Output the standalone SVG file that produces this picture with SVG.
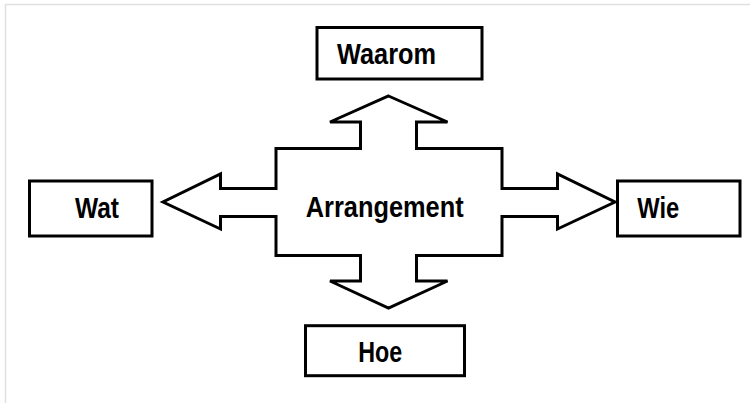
<svg xmlns="http://www.w3.org/2000/svg" width="750" height="403" viewBox="0 0 750 403">
<style>
.box{fill:#fff;stroke:#000;stroke-width:3}
.lbl{font-family:"Liberation Sans",Arial,sans-serif;font-weight:bold;font-size:29px;fill:#000}
.arrow{fill:#fff;stroke:#000;stroke-width:3;stroke-linejoin:miter}
</style>
<rect width="750" height="403" fill="#fff"/>
<path d="M5.5,403 V4.5 H750" fill="none" stroke="#e0e0e0" stroke-width="1.5"/>
<g id="connectors">
<path class="arrow" d="M388.5,96 L447.5,122 H416.5 V148.5 H502 V188.5 H557.5 V174 L615,202 L557.5,229 V216.5 H502 V255.5 H416.5 V281 H447.5 L388.5,308 L330,281 H360.5 V255.5 H276 V216.5 H220.5 V229 L163,202 L220.5,174 V188.5 H276 V148.5 H360.5 V122 H330 Z"/>
</g>
<g id="arrangement">
<text class="lbl" x="305.7" y="217" textLength="158" lengthAdjust="spacingAndGlyphs">Arrangement</text>
</g>
<g id="waarom">
<rect class="box" x="317" y="27.5" width="165" height="51.5"/>
<text class="lbl" x="337" y="64" textLength="99" lengthAdjust="spacingAndGlyphs">Waarom</text>
</g>
<g id="wat">
<rect class="box" x="29.5" y="181" width="122.5" height="55"/>
<text class="lbl" x="75" y="218.3" textLength="44" lengthAdjust="spacingAndGlyphs">Wat</text>
</g>
<g id="wie">
<rect class="box" x="617.5" y="181" width="122.5" height="55"/>
<text class="lbl" x="637.3" y="218.3" textLength="42" lengthAdjust="spacingAndGlyphs">Wie</text>
</g>
<g id="hoe">
<rect class="box" x="305.5" y="325.7" width="159" height="50"/>
<text class="lbl" x="358.3" y="361.7" textLength="44" lengthAdjust="spacingAndGlyphs">Hoe</text>
</g>
</svg>
